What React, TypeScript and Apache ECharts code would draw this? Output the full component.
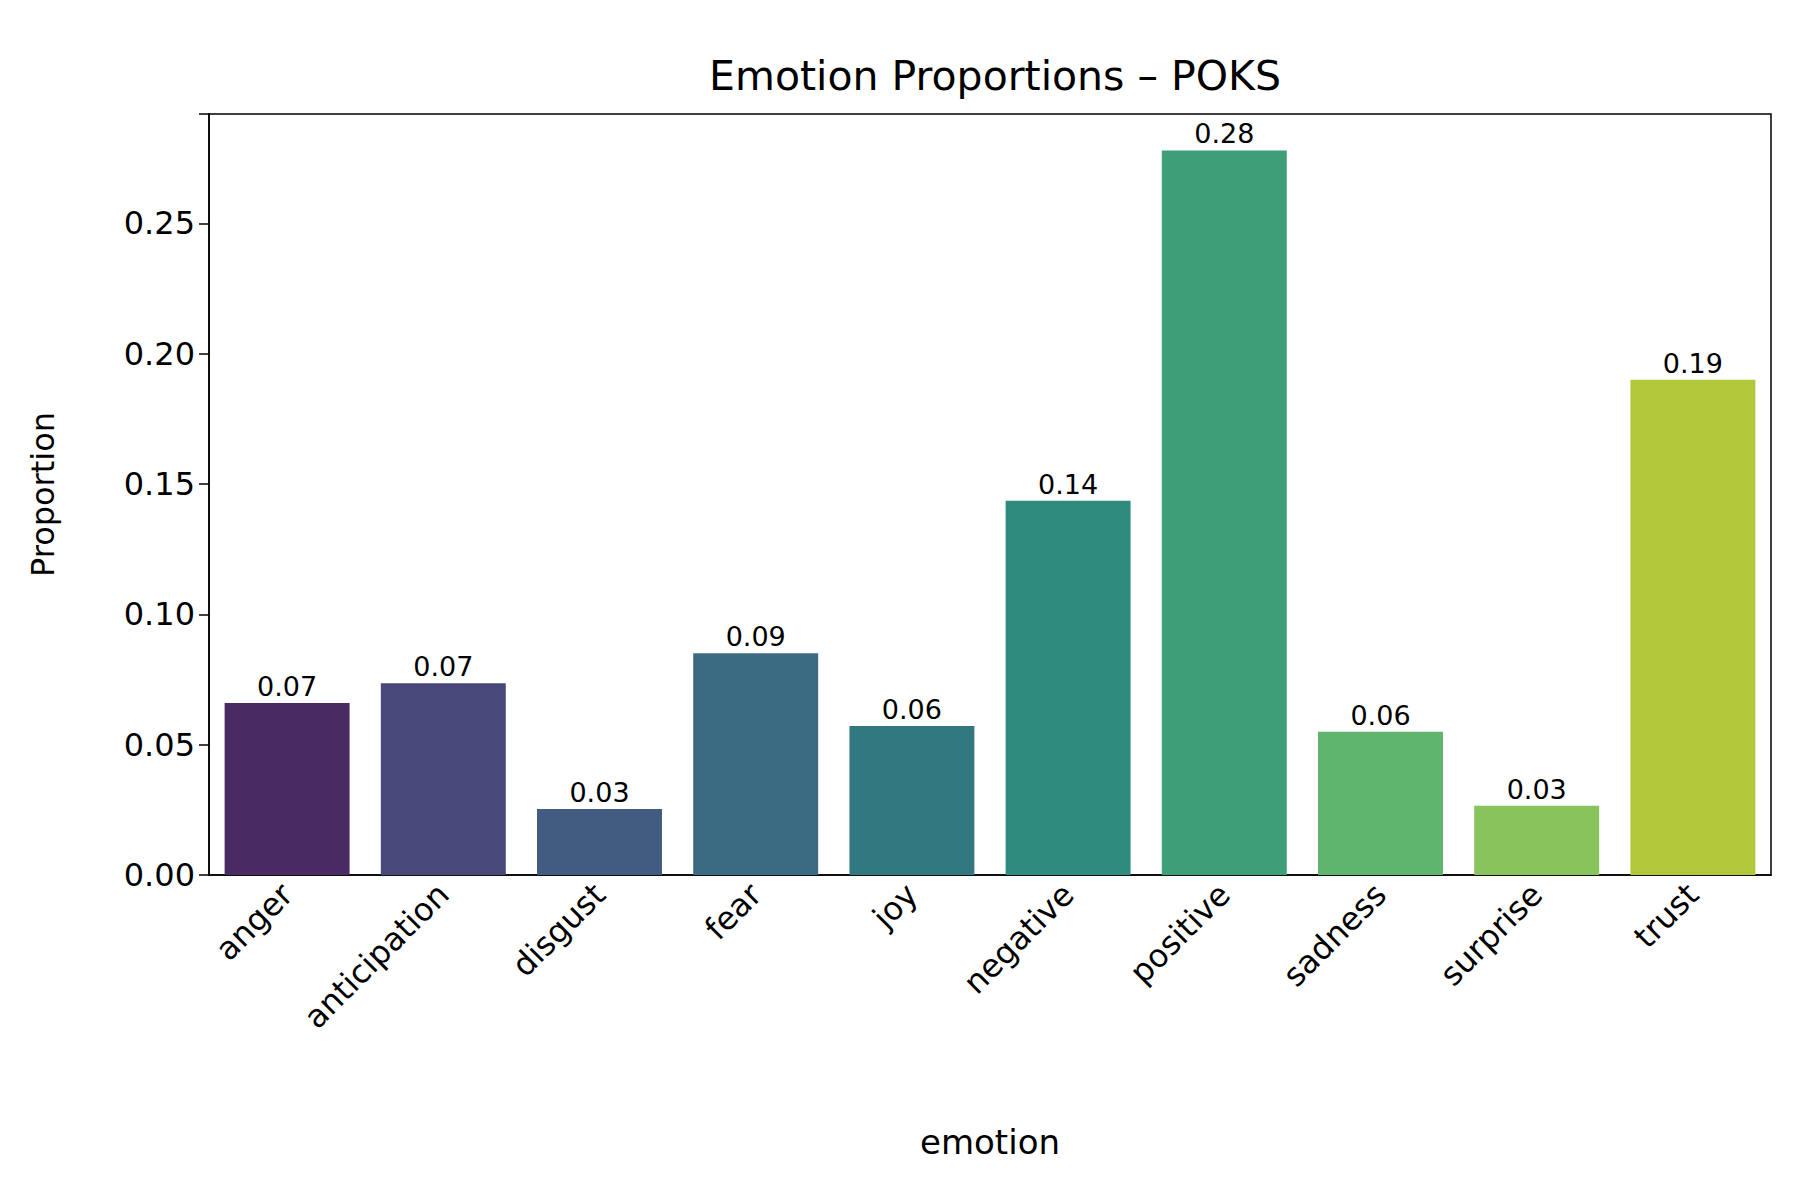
import { useEffect, useRef } from 'react';
import * as echarts from 'echarts';

const categories = ['anger', 'anticipation', 'disgust', 'fear', 'joy', 'negative', 'positive', 'sadness', 'surprise', 'trust'];
const values = [0.066, 0.0736, 0.0253, 0.0851, 0.0572, 0.1436, 0.278, 0.055, 0.0266, 0.19];
const colors = ['#4a2a63', '#48487a', '#425b80', '#3b6b82', '#327880', '#2e8b7d', '#3d9e78', '#5fb46e', '#88c35c', '#b2c83a'];

const FONT = 'DejaVu Sans';

const App = () => {
  const chartRef = useRef<HTMLDivElement>(null);

  useEffect(() => {
    if (!chartRef.current) return;
    const myChart = echarts.init(chartRef.current, null, { renderer: 'svg' });

    const option = {
      animation: false,
      backgroundColor: '#fff',
      title: {
        text: 'Emotion Proportions – POKS',
        left: 982,
        textAlign: 'center',
        top: 42,
        textStyle: { fontFamily: FONT, fontSize: 41, fontWeight: 'normal', color: '#000' }
      },
      grid: {
        left: 201, right: 37, top: 106, bottom: 333,
        show: true, borderColor: '#000', borderWidth: 1.5, backgroundColor: 'transparent'
      },
      xAxis: {
        type: 'category',
        data: categories,
        name: 'emotion',
        nameLocation: 'middle',
        nameGap: 250,
        nameTextStyle: { fontFamily: FONT, fontSize: 34, color: '#000' },
        axisLine: { lineStyle: { color: '#000', width: 1.5 } },
        axisTick: { alignWithLabel: true, length: 10, lineStyle: { color: '#000', width: 1.5 } },
        axisLabel: { rotate: 45, fontFamily: FONT, fontSize: 32, color: '#000', margin: 14 }
      },
      yAxis: {
        type: 'value',
        min: 0,
        max: 0.292,
        interval: 0.05,
        name: 'Proportion',
        nameLocation: 'middle',
        nameGap: 150,
        nameTextStyle: { fontFamily: FONT, fontSize: 32, color: '#000' },
        splitLine: { show: false },
        axisLine: { show: true, lineStyle: { color: '#000', width: 1.5 } },
        axisTick: { show: true, length: 10, lineStyle: { color: '#000', width: 1.5 } },
        axisLabel: {
          fontFamily: FONT, fontSize: 32, color: '#000', margin: 14,
          formatter: (v: number) => (v > 0.29 ? '' : v.toFixed(2))
        }
      },
      series: [
        {
          type: 'bar',
          barCategoryGap: '20%',
          data: values.map((v, i) => ({ value: v, itemStyle: { color: colors[i] } })),
          label: {
            show: true,
            position: 'top',
            distance: 3,
            fontFamily: FONT,
            fontSize: 27,
            color: '#000',
            formatter: (p: any) => Number(p.value).toFixed(2)
          }
        }
      ]
    };

    myChart.setOption(option);
    return () => myChart.dispose();
  }, []);

  return <div ref={chartRef} style={{ width: '1800px', height: '1200px' }} />;
};

export default App;
